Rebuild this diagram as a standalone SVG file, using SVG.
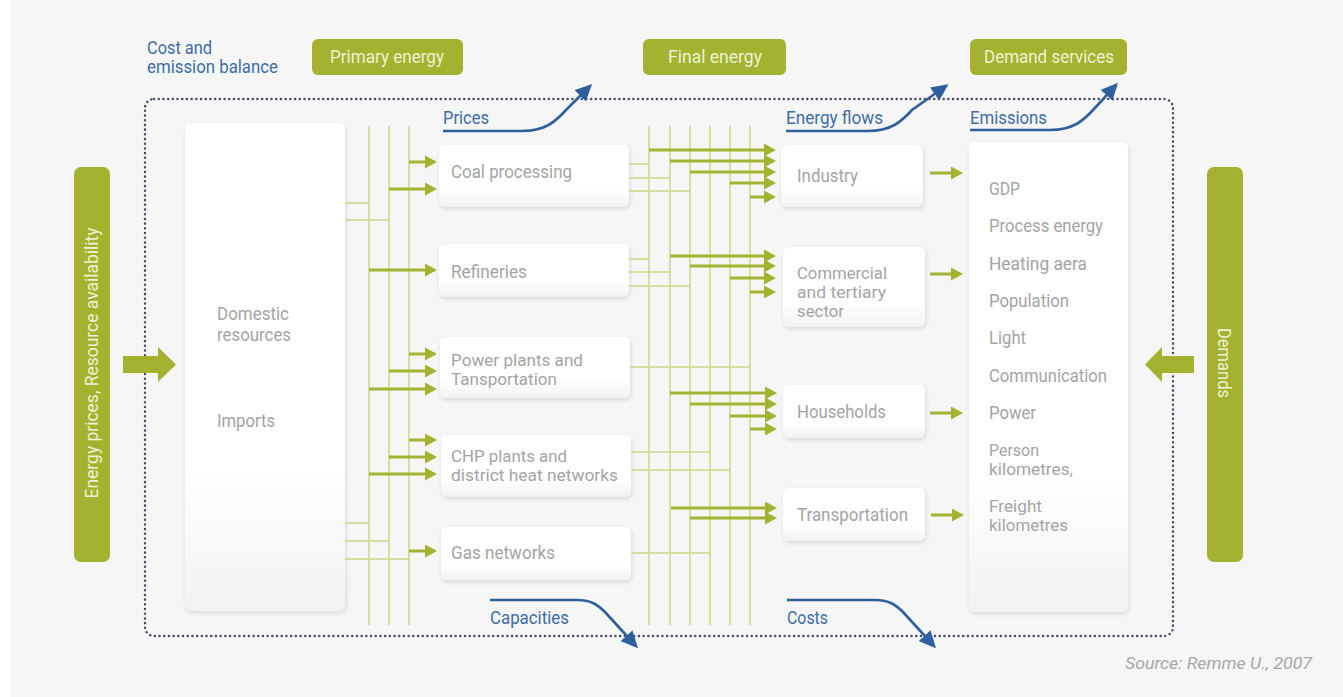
<svg xmlns="http://www.w3.org/2000/svg" width="1343" height="697" viewBox="0 0 1343 697">
<defs>
<style>
.t{font-family:Roboto,"Liberation Sans",sans-serif;font-size:19px;fill:#a4a4a4}
.m{font-size:17px}
.b{font-family:Roboto,"Liberation Sans",sans-serif;font-size:18px;fill:#3d6ca6}
.p{font-family:Roboto,"Liberation Sans",sans-serif;font-size:18px;fill:#eef2d4}
.box{fill:url(#bg);filter:url(#sh)}
.pill{fill:#a3b32f}
.thin{stroke:#ccd883;stroke-width:1.5;fill:none}
.ga{stroke:#a3b32f;stroke-width:3;fill:none;marker-end:url(#gh)}
.ba{stroke:#2f5f9c;stroke-width:2.6;fill:none;marker-end:url(#bh)}
.src{font-family:Roboto,"Liberation Sans",sans-serif;font-size:17px;font-style:italic;fill:#a6a6a6}
</style>
<linearGradient id="bg" x1="0" y1="0" x2="0" y2="1">
<stop offset="0.7" stop-color="#ffffff"/>
<stop offset="1" stop-color="#f2f2f2"/>
</linearGradient>
<filter id="sh" x="-10%" y="-10%" width="130%" height="130%">
<feDropShadow dx="1" dy="2" stdDeviation="2" flood-color="#000" flood-opacity="0.12"/>
</filter>
<marker id="gh" markerUnits="userSpaceOnUse" viewBox="0 0 12 13" markerWidth="12" markerHeight="13" refX="9" refY="6.5" orient="auto">
<path d="M0,0 L12,6.5 L0,13 z" fill="#a3b32f"/>
</marker>
<marker id="bh" markerUnits="userSpaceOnUse" viewBox="0 0 17 16" markerWidth="17" markerHeight="16" refX="14" refY="8" orient="auto">
<path d="M0,0 L17,8 L0,16 z" fill="#2f5f9c"/>
</marker>
</defs>
<rect x="0" y="0" width="1343" height="697" fill="#ffffff"/>
<rect x="10" y="0" width="1333" height="697" fill="#f6f6f6"/>

<g id="frame">
<rect x="145" y="99" width="1028" height="537" rx="9" fill="none" stroke="#3f4a63" stroke-width="2.4" stroke-dasharray="0.1 4.6" stroke-linecap="round"/>
</g>

<g id="title">
<text class="b m" x="147" y="54" textLength="65" lengthAdjust="spacingAndGlyphs">Cost and</text>
<text class="b m" x="147" y="73" textLength="131" lengthAdjust="spacingAndGlyphs">emission balance</text>
</g>

<g id="primary-energy">
<rect class="pill" x="312" y="39" width="151" height="36" rx="6"/>
<text class="p" x="387" y="63" text-anchor="middle" textLength="114" lengthAdjust="spacingAndGlyphs">Primary energy</text>
</g>
<g id="final-energy">
<rect class="pill" x="643" y="39" width="143" height="36" rx="6"/>
<text class="p" x="715" y="63" text-anchor="middle" textLength="94" lengthAdjust="spacingAndGlyphs">Final energy</text>
</g>
<g id="demand-services">
<rect class="pill" x="970" y="39" width="157" height="36" rx="6"/>
<text class="p" x="1049" y="63" text-anchor="middle" textLength="130" lengthAdjust="spacingAndGlyphs">Demand services</text>
</g>

<g id="left-input">
<rect class="pill" x="74" y="167" width="36" height="395" rx="7"/>
<text class="p" transform="translate(98,363) rotate(-90)" text-anchor="middle" textLength="271" lengthAdjust="spacingAndGlyphs">Energy prices, Resource availability</text>
</g>
<g id="right-input">
<rect class="pill" x="1207" y="167" width="36" height="395" rx="7"/>
<text class="p" transform="translate(1218,363) rotate(90)" text-anchor="middle" textLength="70" lengthAdjust="spacingAndGlyphs">Demands</text>
</g>

<g id="resources">
<rect class="box" x="185" y="123" width="160" height="488" rx="6"/>
<text class="t" x="217" y="320" textLength="72" lengthAdjust="spacingAndGlyphs">Domestic</text>
<text class="t" x="217" y="341" textLength="74" lengthAdjust="spacingAndGlyphs">resources</text>
<text class="t" x="217" y="427" textLength="58" lengthAdjust="spacingAndGlyphs">Imports</text>
</g>

<g id="coal-processing">
<rect class="box" x="439" y="145" width="190" height="62" rx="6"/>
<text class="t" x="451" y="178" textLength="121" lengthAdjust="spacingAndGlyphs">Coal processing</text>
</g>
<g id="refineries">
<rect class="box" x="439" y="244" width="190" height="53" rx="6"/>
<text class="t" x="451" y="278" textLength="76" lengthAdjust="spacingAndGlyphs">Refineries</text>
</g>
<g id="power-plants">
<rect class="box" x="440" y="337" width="190" height="61" rx="6"/>
<text class="t m" x="451" y="366" textLength="132" lengthAdjust="spacingAndGlyphs">Power plants and</text>
<text class="t m" x="451" y="385" textLength="106" lengthAdjust="spacingAndGlyphs">Tansportation</text>
</g>
<g id="chp-plants">
<rect class="box" x="441" y="435" width="190" height="62" rx="6"/>
<text class="t m" x="451" y="462" textLength="116" lengthAdjust="spacingAndGlyphs">CHP plants and</text>
<text class="t m" x="451" y="481" textLength="167" lengthAdjust="spacingAndGlyphs">district heat networks</text>
</g>
<g id="gas-networks">
<rect class="box" x="441" y="527" width="190" height="53" rx="6"/>
<text class="t" x="451" y="559" textLength="104" lengthAdjust="spacingAndGlyphs">Gas networks</text>
</g>

<g id="industry">
<rect class="box" x="781" y="145" width="142" height="62" rx="6"/>
<text class="t" x="797" y="182" textLength="61" lengthAdjust="spacingAndGlyphs">Industry</text>
</g>
<g id="commercial">
<rect class="box" x="783" y="247" width="142" height="80" rx="6"/>
<text class="t m" x="797" y="279" textLength="90" lengthAdjust="spacingAndGlyphs">Commercial</text>
<text class="t m" x="797" y="298" textLength="89" lengthAdjust="spacingAndGlyphs">and tertiary</text>
<text class="t m" x="797" y="317" textLength="47" lengthAdjust="spacingAndGlyphs">sector</text>
</g>
<g id="households">
<rect class="box" x="783" y="385" width="142" height="53" rx="6"/>
<text class="t" x="797" y="418" textLength="89" lengthAdjust="spacingAndGlyphs">Households</text>
</g>
<g id="transportation">
<rect class="box" x="783" y="488" width="142" height="53" rx="6"/>
<text class="t" x="797" y="521" textLength="111" lengthAdjust="spacingAndGlyphs">Transportation</text>
</g>

<g id="demands">
<rect class="box" x="969" y="142" width="159" height="470" rx="6"/>
<text class="t" x="989" y="195" textLength="31" lengthAdjust="spacingAndGlyphs">GDP</text>
<text class="t" x="989" y="232" textLength="114" lengthAdjust="spacingAndGlyphs">Process energy</text>
<text class="t" x="989" y="270" textLength="98" lengthAdjust="spacingAndGlyphs">Heating aera</text>
<text class="t" x="989" y="307" textLength="80" lengthAdjust="spacingAndGlyphs">Population</text>
<text class="t" x="989" y="344" textLength="37" lengthAdjust="spacingAndGlyphs">Light</text>
<text class="t" x="989" y="382" textLength="118" lengthAdjust="spacingAndGlyphs">Communication</text>
<text class="t" x="989" y="419" textLength="47" lengthAdjust="spacingAndGlyphs">Power</text>
<text class="t m" x="989" y="456" textLength="50" lengthAdjust="spacingAndGlyphs">Person</text>
<text class="t m" x="989" y="475" textLength="84" lengthAdjust="spacingAndGlyphs">kilometres,</text>
<text class="t m" x="989" y="512" textLength="53" lengthAdjust="spacingAndGlyphs">Freight</text>
<text class="t m" x="989" y="531" textLength="79" lengthAdjust="spacingAndGlyphs">kilometres</text>
</g>

<g id="connectors">
<path class="thin" d="M369,126V625M389,126V625M409,126V625"/>
<path class="thin" d="M345,203H369M345,220H389M345,523H369M345,541H389M345,559H409"/>
<path class="ga" d="M409,162H434"/>
<path class="ga" d="M389,189H434"/>
<path class="ga" d="M369,270H434"/>
<path class="ga" d="M409,354H434"/>
<path class="ga" d="M389,371H434"/>
<path class="ga" d="M369,389H434"/>
<path class="ga" d="M409,440H434"/>
<path class="ga" d="M389,457H434"/>
<path class="ga" d="M369,474H434"/>
<path class="ga" d="M409,551H434"/>
<path class="thin" d="M649,126V625M670,126V625M690,126V625M710,126V625M730,126V625M750,126V625"/>
<path class="thin" d="M629,164H649M629,178H670M629,191H690M629,259H649M629,272H670M629,286H690M630,367H750M631,452H710M631,470H730M631,553H710"/>
<path class="ga" d="M649,150H773"/>
<path class="ga" d="M670,161H773"/>
<path class="ga" d="M690,172H773"/>
<path class="ga" d="M730,183H773"/>
<path class="ga" d="M750,197H773"/>
<path class="ga" d="M670,256H773"/>
<path class="ga" d="M690,266H773"/>
<path class="ga" d="M730,278H773"/>
<path class="ga" d="M750,292H773"/>
<path class="ga" d="M670,393H774"/>
<path class="ga" d="M690,404H774"/>
<path class="ga" d="M730,416H774"/>
<path class="ga" d="M750,429H774"/>
<path class="ga" d="M671,508H774"/>
<path class="ga" d="M690,518H774"/>
<path class="ga" d="M930,173H960"/>
<path class="ga" d="M930,274H960"/>
<path class="ga" d="M930,413H960"/>
<path class="ga" d="M931,515H961"/>
<path d="M123,356H158V347L176,364.5L158,382V373H123Z" fill="#a3b32f"/>
<path d="M1194,356H1162V347L1145,364.5L1162,382V373H1194Z" fill="#a3b32f"/>
<path class="ba" d="M443,131H522C545,131 555,122 566,110L590,86"/>
<path class="ba" d="M786,131H868C891,131 901,122 912,110L946,86"/>
<path class="ba" d="M970,130H1050C1073,130 1083,121 1094,109L1116,85"/>
<path class="ba" d="M490,600H577C590,600 597,604 605,612L636,646"/>
<path class="ba" d="M787,600H875C888,600 895,604 903,612L934,646"/>
</g>

<g id="flow-labels">
<text class="b" x="443" y="124" textLength="46" lengthAdjust="spacingAndGlyphs">Prices</text>
<text class="b" x="786" y="124" textLength="97" lengthAdjust="spacingAndGlyphs">Energy flows</text>
<text class="b" x="970" y="124" textLength="77" lengthAdjust="spacingAndGlyphs">Emissions</text>
<text class="b" x="490" y="624" textLength="79" lengthAdjust="spacingAndGlyphs">Capacities</text>
<text class="b" x="787" y="624" textLength="41" lengthAdjust="spacingAndGlyphs">Costs</text>
</g>

<text class="src" x="1125" y="669" textLength="187" lengthAdjust="spacingAndGlyphs">Source: Remme U., 2007</text>
</svg>
